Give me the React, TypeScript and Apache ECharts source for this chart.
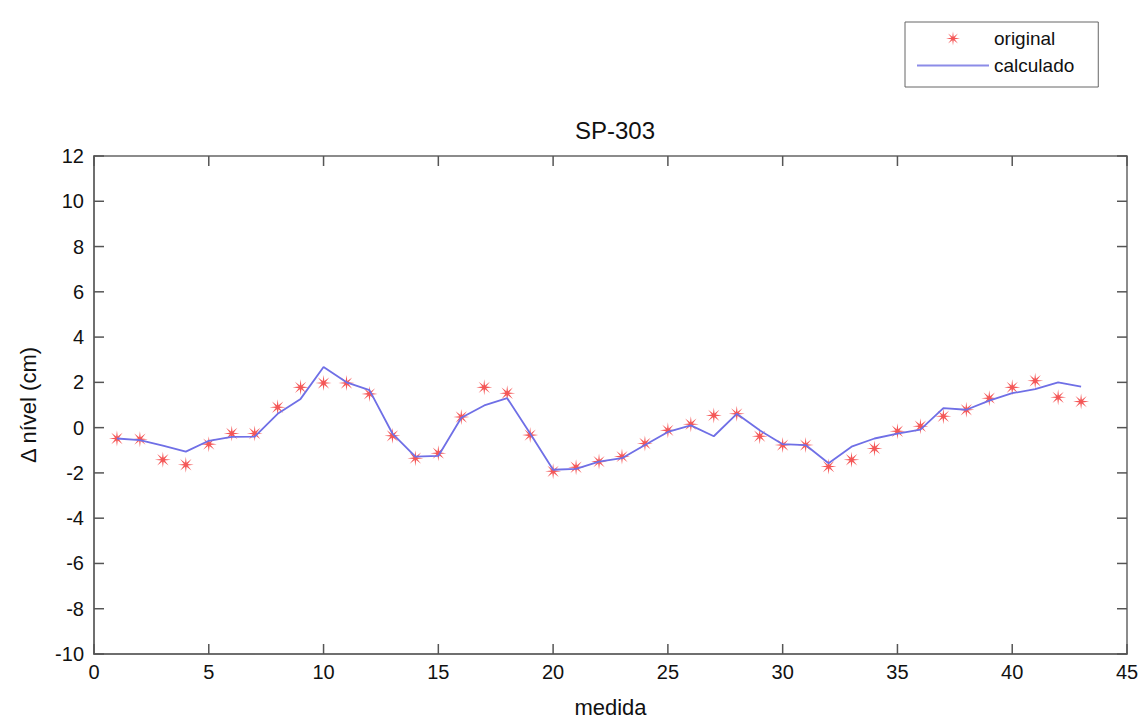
import React, { useEffect, useRef } from "react";
import * as echarts from "echarts";

const medida = [1,2,3,4,5,6,7,8,9,10,11,12,13,14,15,16,17,18,19,20,21,22,23,24,25,26,27,28,29,30,31,32,33,34,35,36,37,38,39,40,41,42,43];
const original = [-0.48,-0.51,-1.42,-1.64,-0.73,-0.26,-0.26,0.90,1.78,1.97,1.97,1.49,-0.36,-1.35,-1.13,0.47,1.78,1.52,-0.33,-1.93,-1.75,-1.50,-1.28,-0.70,-0.12,0.15,0.54,0.61,-0.38,-0.77,-0.77,-1.72,-1.42,-0.92,-0.16,0.06,0.50,0.79,1.30,1.78,2.07,1.34,1.15];
const calculado = [-0.48,-0.55,-0.80,-1.06,-0.58,-0.41,-0.40,0.61,1.27,2.68,2.00,1.66,-0.26,-1.28,-1.25,0.44,0.98,1.30,-0.26,-1.86,-1.82,-1.50,-1.35,-0.77,-0.19,0.10,-0.38,0.61,-0.12,-0.73,-0.77,-1.57,-0.84,-0.48,-0.26,-0.09,0.86,0.79,1.19,1.52,1.70,2.00,1.81];
const xTickValues = [0, 5, 10, 15, 20, 25, 30, 35, 40, 45];
const yTickValues = [-10, -8, -6, -4, -2, 0, 2, 4, 6, 8, 10, 12];
const xTicks = { min: 0, max: 45, interval: 5 };
const yTicks = { min: -10, max: 12, interval: 2 };

function starPath(): string {
  const pts: string[] = [];
  for (let i = 0; i < 16; i++) {
    const r = i % 2 === 0 ? 10 : 2.6;
    const a = (Math.PI * i) / 8 - Math.PI / 2;
    pts.push(`${(r * Math.cos(a)).toFixed(2)},${(r * Math.sin(a)).toFixed(2)}`);
  }
  return "path://M" + pts.join(" L") + " Z";
}

export default function App() {
  const ref = useRef<HTMLDivElement>(null);
  useEffect(() => {
    if (!ref.current) return;
    const chart = echarts.init(ref.current, undefined, { renderer: "svg" });
    const font = "Liberation Sans, Arial, sans-serif";
    const star = starPath();
    const tickLen = 10;
    const tickStyle = { stroke: "#555", lineWidth: 1.5 };
    const tickData = [
      ...xTickValues.map((v) => [v, yTicks.min, 0]),
      ...yTickValues.map((v) => [xTicks.min, v, 1]),
    ];
    chart.setOption({
      animation: false,
      title: {
        text: "SP-303",
        left: 610,
        textAlign: "center",
        top: 113,
        textStyle: { fontSize: 24, fontWeight: "normal", color: "#111", fontFamily: font },
      },
      legend: {
        orient: "vertical",
        left: 905,
        top: 22,
        itemWidth: 72,
        itemHeight: 14,
        itemGap: 8,
        padding: [7, 24, 12, 12],
        borderColor: "#666",
        borderWidth: 1,
        backgroundColor: "#fff",
        textStyle: { fontSize: 19, color: "#111", fontFamily: font },
        data: [
          { name: "original", icon: star, itemStyle: { color: "#f23a3a" } },
          { name: "calculado", icon: "path://M0,0 L72,0 L72,2 L0,2 Z", itemStyle: { color: "#8c8ce8" } },
        ],
      },
      grid: {
        left: 94,
        top: 156,
        width: 1033,
        height: 504,
        show: true,
        borderColor: "#666",
        borderWidth: 1.5,
        backgroundColor: "transparent",
      },
      xAxis: {
        type: "value",
        ...xTicks,
        axisLine: { show: true, onZero: false, lineStyle: { color: "#666", width: 1.5 } },
        axisTick: { show: false },
        splitLine: { show: false },
        name: "medida",
        nameLocation: "middle",
        nameGap: 42,
        nameTextStyle: { fontSize: 22, color: "#111", fontFamily: font },
        axisLabel: { fontSize: 20, color: "#111", margin: 8, fontFamily: font },
      },
      yAxis: {
        type: "value",
        ...yTicks,
        axisLine: { show: true, onZero: false, lineStyle: { color: "#666", width: 1.5 } },
        axisTick: { show: false },
        splitLine: { show: false },
        name: "\u0394 n\u00edvel (cm)",
        nameLocation: "middle",
        nameGap: 55,
        nameTextStyle: { fontSize: 22, color: "#111", fontFamily: font },
        axisLabel: { fontSize: 20, color: "#111", margin: 10, fontFamily: font },
      },
      series: [
        {
          name: "ticks",
          type: "custom",
          coordinateSystem: "cartesian2d",
          silent: true,
          clip: false,
          z: 1,
          data: tickData,
          renderItem: (_params: any, api: any) => {
            const kind = api.value(2);
            const v = kind === 0 ? api.value(0) : api.value(1);
            if (kind === 0) {
              const b = api.coord([v, yTicks.min]);
              const t = api.coord([v, yTicks.max]);
              return {
                type: "group",
                children: [
                  { type: "line", shape: { x1: b[0], y1: b[1], x2: b[0], y2: b[1] - tickLen }, style: tickStyle },
                  { type: "line", shape: { x1: t[0], y1: t[1], x2: t[0], y2: t[1] + tickLen }, style: tickStyle },
                ],
              };
            }
            const l = api.coord([xTicks.min, v]);
            const r = api.coord([xTicks.max, v]);
            return {
              type: "group",
              children: [
                { type: "line", shape: { x1: l[0], y1: l[1], x2: l[0] + tickLen, y2: l[1] }, style: tickStyle },
                { type: "line", shape: { x1: r[0], y1: r[1], x2: r[0] - tickLen, y2: r[1] }, style: tickStyle },
              ],
            };
          },
        },
        {
          name: "original",
          type: "scatter",
          symbol: star,
          symbolSize: 16,
          itemStyle: { color: "#f23a3a", opacity: 0.85 },
          data: medida.map((m, i) => [m, original[i]]),
          z: 3,
        },
        {
          name: "calculado",
          type: "line",
          symbol: "none",
          showSymbol: false,
          lineStyle: { color: "#6f6fe6", width: 1.8 },
          itemStyle: { color: "#6f6fe6" },
          data: medida.map((m, i) => [m, calculado[i]]),
          z: 4,
        },
      ],
    });
    return () => chart.dispose();
  }, []);
  return (
    <div
      ref={ref}
      style={{ position: "fixed", left: 0, top: 0, width: 1142, height: 723, background: "#fff" }}
    />
  );
}
